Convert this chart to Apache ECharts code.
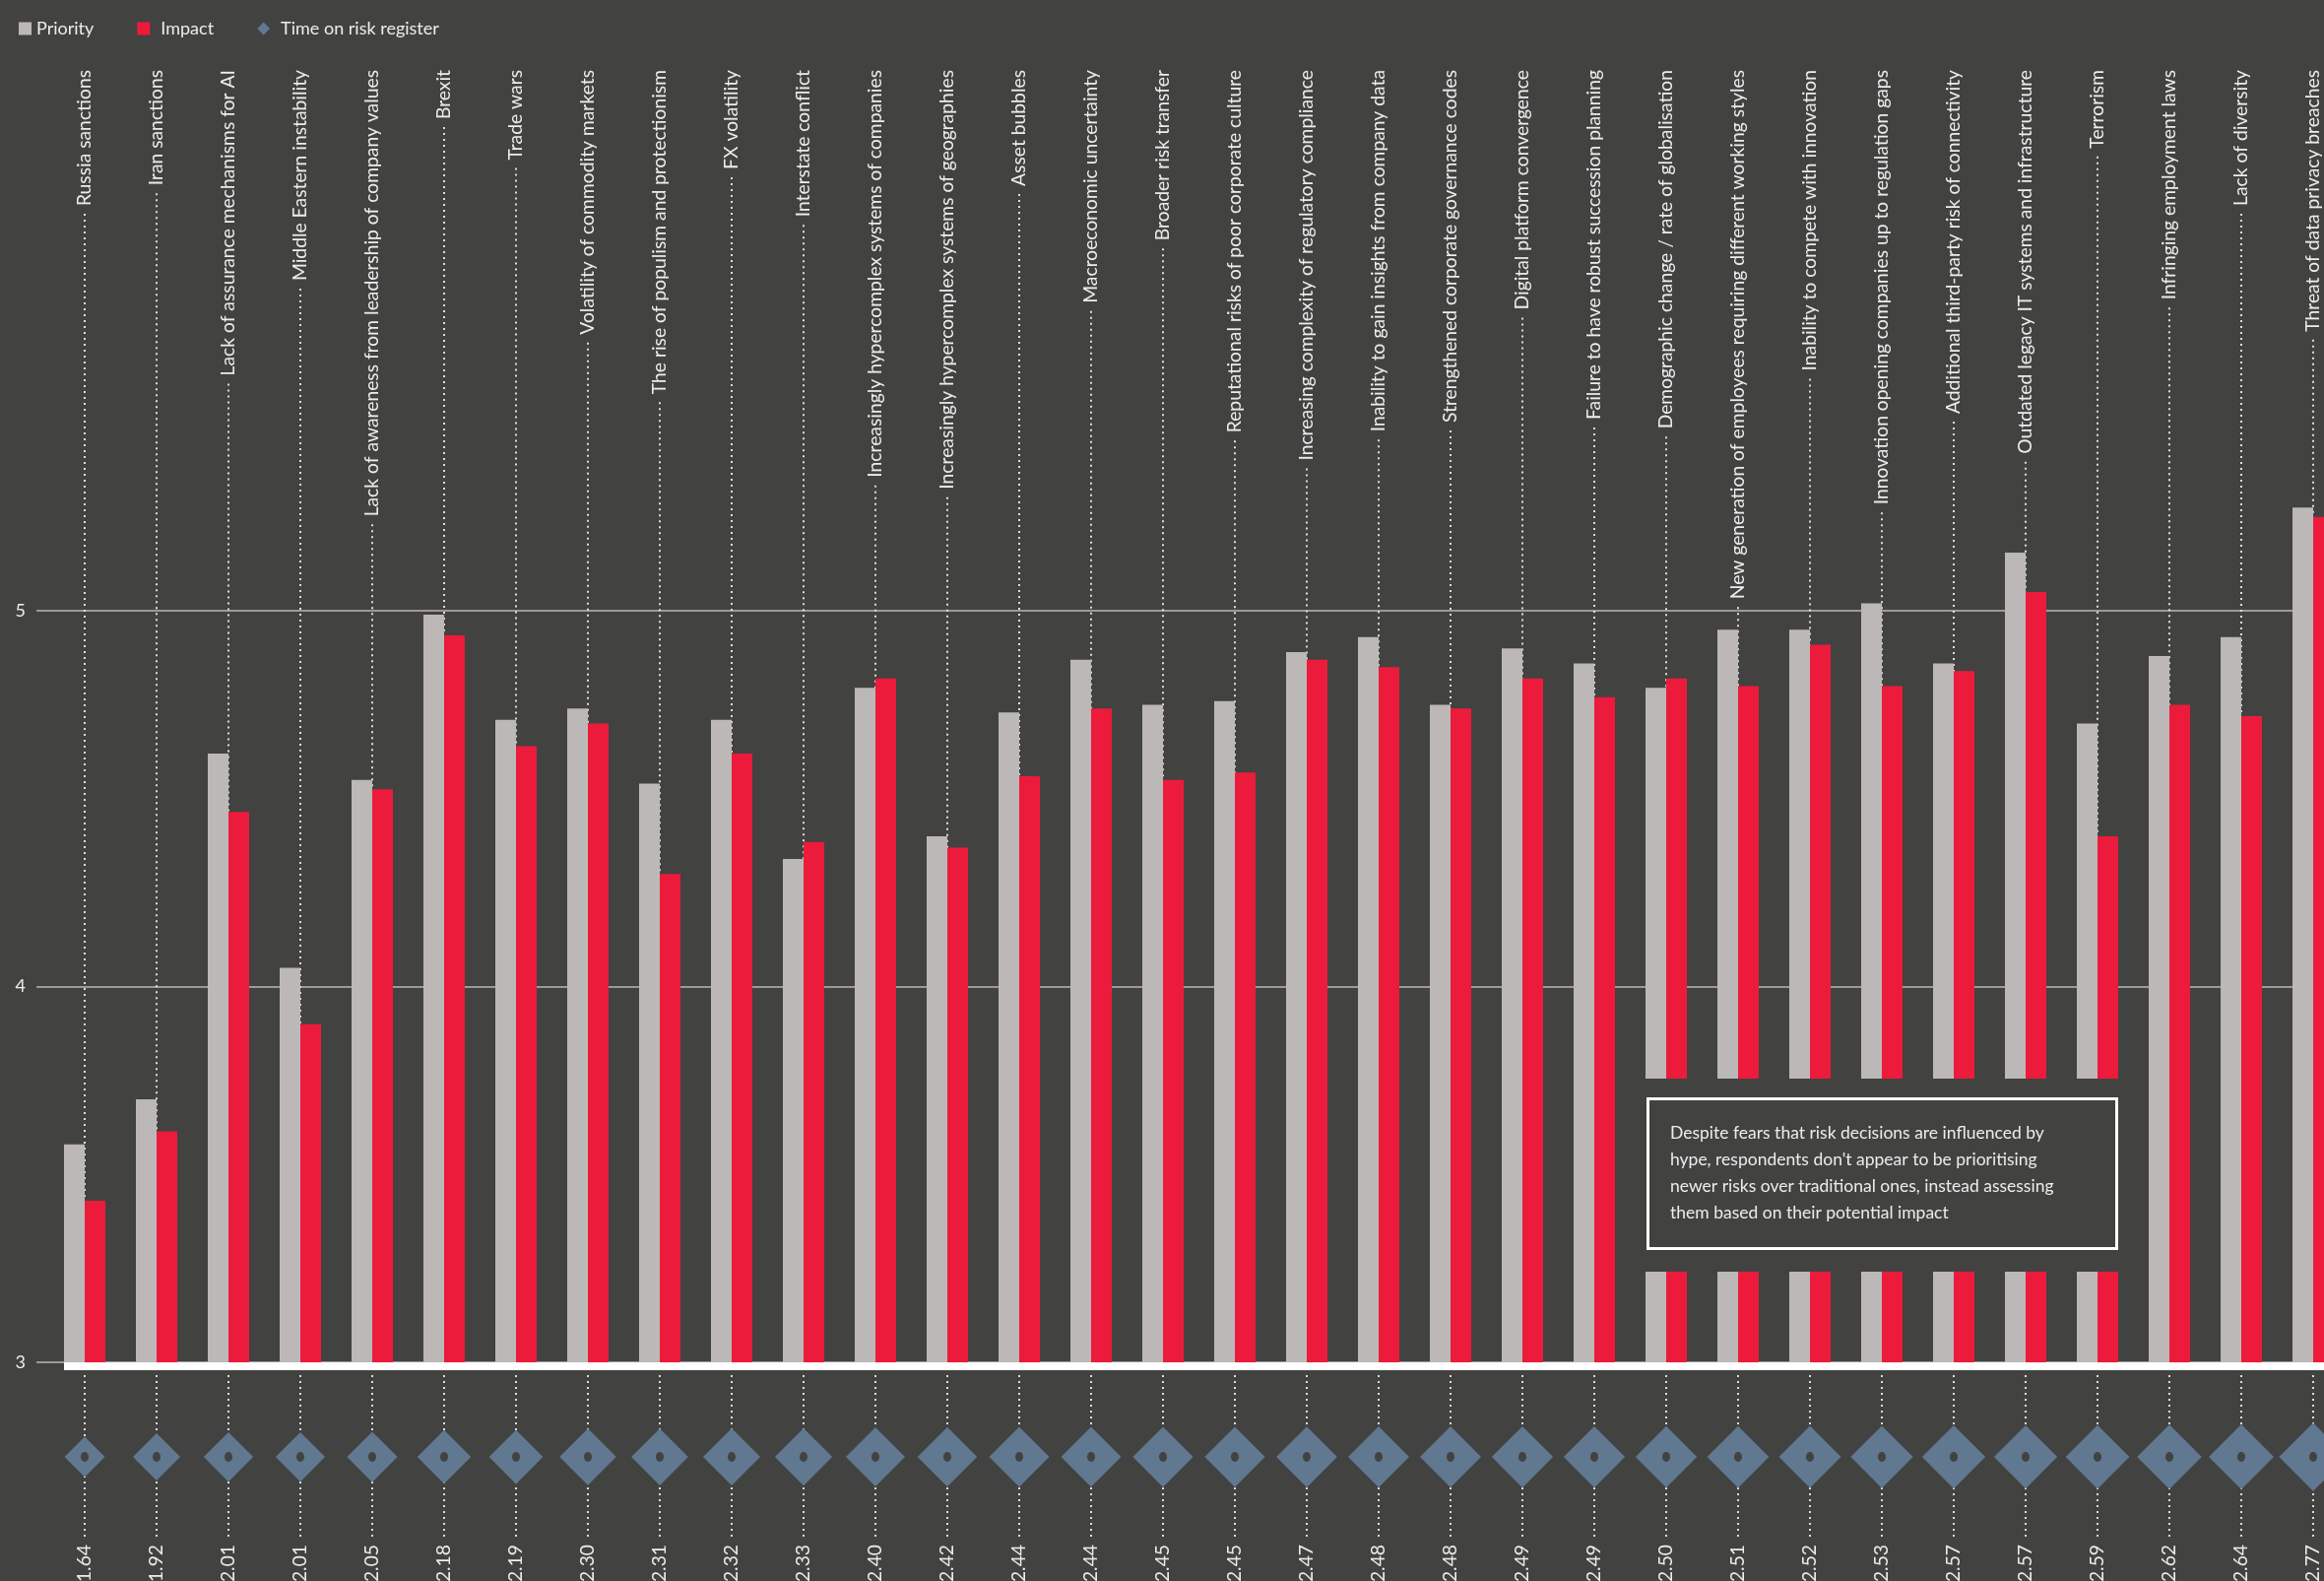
<!DOCTYPE html>
<html>
<head>
<meta charset="utf-8">
<script src="https://cdn.jsdelivr.net/npm/echarts@6/dist/echarts.min.js"></script>
<style>
  html, body { margin: 0; padding: 0; background: #424241; }
  #chart { width: 2360px; height: 1605px; }
</style>
</head>
<body>
<div id="chart"></div>
<script>
const categories = [
  'Russia sanctions', 'Iran sanctions', 'Lack of assurance mechanisms for AI', 'Middle Eastern instability',
  'Lack of awareness from leadership of company values', 'Brexit', 'Trade wars', 'Volatility of commodity markets',
  'The rise of populism and protectionism', 'FX volatility', 'Interstate conflict',
  'Increasingly hypercomplex systems of companies', 'Increasingly hypercomplex systems of geographies',
  'Asset bubbles', 'Macroeconomic uncertainty', 'Broader risk transfer', 'Reputational risks of poor corporate culture',
  'Increasing complexity of regulatory compliance', 'Inability to gain insights from company data',
  'Strengthened corporate governance codes', 'Digital platform convergence', 'Failure to have robust succession planning',
  'Demographic change / rate of globalisation', 'New generation of employees requiring different working styles',
  'Inability to compete with innovation', 'Innovation opening companies up to regulation gaps',
  'Additional third-party risk of connectivity', 'Outdated legacy IT systems and infrastructure', 'Terrorism',
  'Infringing employment laws', 'Lack of diversity', 'Threat of data privacy breaches'
]
const priority = [3.58, 3.70, 4.62, 4.05, 4.55, 4.99, 4.71, 4.74, 4.54, 4.71, 4.34, 4.795, 4.40, 4.73, 4.87, 4.75,
  4.76, 4.89, 4.93, 4.75, 4.90, 4.86, 4.795, 4.95, 4.95, 5.02, 4.86, 5.155, 4.70, 4.88, 4.93, 5.275]
const impact = [3.43, 3.615, 4.465, 3.90, 4.525, 4.935, 4.64, 4.70, 4.30, 4.62, 4.385, 4.82, 4.37, 4.56, 4.74, 4.55,
  4.57, 4.87, 4.85, 4.74, 4.82, 4.77, 4.82, 4.80, 4.91, 4.80, 4.84, 5.05, 4.40, 4.75, 4.72, 5.25]
const timeOnRegister = [1.64, 1.92, 2.01, 2.01, 2.05, 2.18, 2.19, 2.30, 2.31, 2.32, 2.33, 2.40, 2.42, 2.44, 2.44, 2.45,
  2.45, 2.47, 2.48, 2.48, 2.49, 2.49, 2.50, 2.51, 2.52, 2.53, 2.57, 2.57, 2.59, 2.62, 2.64, 2.77]
const yTicks = [3, 4, 5]
const note = "Despite fears that risk decisions are influenced by\nhype, respondents don't appear to be prioritising\nnewer risks over traditional ones, instead assessing\nthem based on their potential impact"
// categories whose bars are cut by the note box
const cutFrom = 22
const cutTo = 28

const BG = '#424241'
const GREY = '#bcb8b7'
const RED = '#ec1b3c'
const SLATE = '#607890'
const TEXT = '#ececec'
const FONT = 'Lato'
const LABEL_SIZE = 19.3
const LABEL_MARGIN = 23
const BAR_W = 21

// measure label lengths so the dotted leaders start right under each rotated label
const ctx = document.createElement('canvas').getContext('2d')
ctx.font = LABEL_SIZE + 'px ' + FONT
const labelLen = categories.map((c) => ctx.measureText(c).width)

const dots = { stroke: '#dcdcdc', lineWidth: 2, lineDash: [2, 4] }

const chart = echarts.init(document.getElementById('chart'))
chart.setOption({
  backgroundColor: BG,
  animation: false,
  textStyle: { fontFamily: FONT },
  legend: {
    left: 14, top: 15,
    itemWidth: 13, itemHeight: 13, itemGap: 44,
    textStyle: { color: TEXT, fontSize: 18, fontFamily: FONT },
    data: [
      { name: 'Priority', icon: 'rect' },
      { name: 'Impact', icon: 'rect', textStyle: { padding: [0, 0, 0, 6] } },
      { name: 'Time on risk register', icon: 'diamond', textStyle: { padding: [0, 0, 0, 6] } },
    ],
  },
  grid: [
    { left: 49.5, width: 2336, top: 48, bottom: 222, outerBoundsMode: 'none' },
    { left: 49.5, width: 2336, top: 1396, bottom: 43, outerBoundsMode: 'none' },
    { left: 37, right: 0, top: 620.1, bottom: 222, outerBoundsMode: 'none' },
  ],
  xAxis: [
    {
      type: 'category', gridIndex: 0, data: categories,
      axisLine: { show: false }, axisTick: { show: false }, axisLabel: { show: false },
    },
    {
      type: 'category', gridIndex: 1, data: timeOnRegister.map((v) => v.toFixed(2)),
      axisLine: { show: false }, axisTick: { show: false },
      axisLabel: { rotate: 90, interval: 0, margin: 6, color: TEXT, fontSize: LABEL_SIZE, fontFamily: FONT },
    },
    { type: 'value', gridIndex: 2, show: false },
  ],
  yAxis: [
    { type: 'value', gridIndex: 0, min: 3, max: 6.5, show: false },
    { type: 'value', gridIndex: 1, min: -1, max: 1, show: false },
    {
      type: 'value', gridIndex: 2, min: yTicks[0], max: yTicks[yTicks.length - 1], interval: 1,
      axisLine: { show: false }, axisTick: { show: false },
      axisLabel: { color: TEXT, fontSize: 18, margin: 11, fontFamily: FONT },
      splitLine: { lineStyle: { color: '#9c9a99', width: 2 } },
    },
  ],
  series: [
    {
      // category names on top, with a dotted leader running down behind the bars
      type: 'custom', xAxisIndex: 0, yAxisIndex: 0, z: 1, silent: true,
      data: priority,
      renderItem: (params, api) => {
        const i = params.dataIndex
        const base = api.coord([i, 3])
        const anchor = api.coord([i, 6.5])[1] + LABEL_MARGIN
        return {
          type: 'group',
          children: [
            {
              type: 'text', x: base[0], y: anchor, rotation: Math.PI / 2,
              style: { text: categories[i], fill: TEXT, font: LABEL_SIZE + 'px ' + FONT, align: 'right', verticalAlign: 'middle' },
            },
            {
              type: 'line',
              shape: { x1: base[0], y1: anchor + labelLen[i] + 8, x2: base[0], y2: base[1] },
              style: dots,
            },
          ],
        }
      },
    },
    {
      type: 'custom', xAxisIndex: 1, yAxisIndex: 1, z: 1, silent: true,
      data: timeOnRegister,
      renderItem: (params, api) => {
        const i = params.dataIndex
        const a = api.coord([i, 1])
        const b = api.coord([i, -1])
        return { type: 'line', shape: { x1: a[0], y1: a[1], x2: b[0], y2: b[1] }, style: dots }
      },
    },
    {
      name: 'Priority', type: 'bar', xAxisIndex: 0, yAxisIndex: 0,
      data: priority, barWidth: BAR_W, barGap: '0%', itemStyle: { color: GREY },
    },
    {
      name: 'Impact', type: 'bar', xAxisIndex: 0, yAxisIndex: 0,
      data: impact, barWidth: BAR_W, barGap: '0%', itemStyle: { color: RED },
    },
    {
      name: 'Time on risk register', type: 'scatter', xAxisIndex: 1, yAxisIndex: 1, z: 3,
      symbol: 'diamond',
      data: timeOnRegister.map((v, i) => [i, 0, v]),
      symbolSize: (val) => val[2] * 25,
      itemStyle: { color: SLATE, opacity: 1 },
    },
    {
      type: 'scatter', xAxisIndex: 1, yAxisIndex: 1, z: 4, silent: true,
      symbol: 'circle', symbolSize: [8, 10],
      data: timeOnRegister.map((v, i) => [i, 0]),
      itemStyle: { color: BG, opacity: 1 },
    },
  ],
})

// white baseline starting at the first bar's left edge, and the note box cutting the bars
const x0 = chart.convertToPixel({ xAxisIndex: 0 }, 0) - BAR_W
const y3 = chart.convertToPixel({ yAxisIndex: 0 }, 3)
const cutL = chart.convertToPixel({ xAxisIndex: 0 }, cutFrom) - BAR_W - 4
const cutR = chart.convertToPixel({ xAxisIndex: 0 }, cutTo) + BAR_W + 2
chart.setOption({
  graphic: [
    { type: 'rect', z: 50, shape: { x: x0, y: y3, width: 2360 - x0, height: 8 }, style: { fill: '#ffffff' } },
    { type: 'rect', z: 100, shape: { x: cutL, y: 1095, width: cutR - cutL, height: 196 }, style: { fill: BG } },
    { type: 'rect', z: 101, shape: { x: 1673.5, y: 1115.5, width: 476, height: 152 }, style: { fill: BG, stroke: '#ffffff', lineWidth: 3 } },
    {
      type: 'text', z: 102, x: 1696, y: 1137,
      style: { text: note, fill: TEXT, font: '17.5px ' + FONT, lineHeight: 27 },
    },
  ],
})
</script>
</body>
</html>
